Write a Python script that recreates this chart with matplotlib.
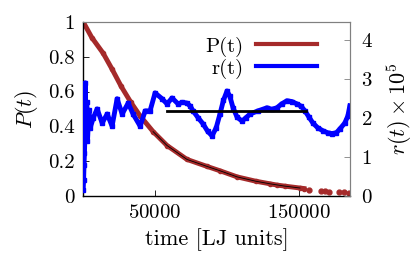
import matplotlib
matplotlib.use("Agg")
import matplotlib.pyplot as plt
from matplotlib.lines import Line2D

plt.rcParams['font.family'] = 'serif'
plt.rcParams['font.serif'] = ['cmr10']
plt.rcParams['mathtext.fontset'] = 'cm'
plt.rcParams['axes.formatter.use_mathtext'] = True
plt.rcParams['font.size'] = 15

# P(t) survival probability (left axis)
t_P = [0, 6000, 13900, 20000, 26400, 33000, 39600, 48600, 58300, 72200,
       86100, 95100, 107000, 120000, 130000, 134700, 140000, 150700, 153500]
P = [1.0, 0.91, 0.82, 0.73, 0.63, 0.54, 0.46, 0.37, 0.29, 0.21,
     0.17, 0.145, 0.11, 0.085, 0.07, 0.063, 0.057, 0.046, 0.043]
# sparse tail of P(t)
t_P_tail = [157000, 165000, 168000, 171000, 178000, 181000, 185000]
P_tail = [0.035, 0.027, 0.026, 0.025, 0.022, 0.021, 0.02]
# fit through P(t)
t_fit = [48600, 58300, 72200, 86100, 95100,
         107000, 120000, 130000, 140000, 150700]
P_fit = [0.37, 0.29, 0.21, 0.17, 0.145,
         0.11, 0.085, 0.07, 0.057, 0.046]

# r(t) x 1e5 (right axis)
t_r = [0, 300, 600, 900, 1200, 1500, 2000, 2500, 3000, 4000, 4900, 7000,
       9700, 13200, 16700, 20100, 23600, 27100, 31300, 34700, 39600, 43100,
       46500, 50000, 54900, 58300, 61800, 66000, 69000, 72200, 74500, 76400,
       80000, 83300, 86500, 89600, 92500, 95100, 97500, 100000, 102000,
       104200, 107000, 110400, 113000, 116000, 121500, 127800, 131000,
       134700, 138000, 141700, 145000, 148600, 151500, 154200, 157000,
       159700, 163000, 166700, 170000, 172900, 176000, 178500, 181900,
       184000, 185400]
r = [0.15, 0.4, 0.8, 1.1, 1.5, 2.9, 1.6, 2.4, 1.4, 2.2, 1.74, 2.0,
     2.23, 1.87, 2.10, 1.79, 2.49, 2.10, 2.38, 2.10, 1.79, 2.18,
     2.18, 2.64, 2.49, 2.36, 2.51, 2.36, 2.40, 2.38, 2.30, 2.18,
     2.00, 1.85, 1.66, 1.54, 1.75, 2.10, 2.45, 2.69, 2.55,
     2.26, 2.02, 1.92, 2.00, 2.10, 2.18, 2.26, 2.22,
     2.26, 2.36, 2.44, 2.42, 2.36, 2.30, 2.18, 2.02,
     1.87, 1.75, 1.67, 1.62, 1.60, 1.62, 1.72, 1.87,
     2.05, 2.31]
# mean of r(t)
t_mean = [58000, 155000]
r_mean = [2.19, 2.19]

red = '#a52a2a'
blue = '#0000ff'

fig = plt.figure(figsize=(4.2, 2.7), dpi=100)
ax = fig.add_axes([0.198, 0.274, 0.635, 0.645])
ax2 = ax.twinx()

ax.plot(t_P, P, color=red, lw=3.5, marker='o', ms=3)
ax.plot(t_P_tail, P_tail, ls='none', color=red, marker='o', ms=3.5)
ax.plot(t_fit, P_fit, color='black', lw=0.6)

ax2.plot(t_r, r, color=blue, lw=3.5, marker='s', ms=3.5)
ax2.plot(t_mean, r_mean, color='black', lw=2)

ax.set_xlim(0, 185400)
ax.set_ylim(0, 1)
ax2.set_ylim(0, 4.46)
ax.set_xticks([50000, 150000])
ax.set_yticks([0, 0.2, 0.4, 0.6, 0.8, 1])
ax.set_yticklabels(['0', '0.2', '0.4', '0.6', '0.8', '1'])
ax2.set_yticks([0, 1, 2, 3, 4])

ax.tick_params(direction='in', length=4, width=0.6, top=False, right=False, pad=6)
ax2.tick_params(direction='in', length=4, width=0.6, color='gray', pad=8)

for s in ['top', 'right']:
    ax.spines[s].set_color('gray')
    ax2.spines[s].set_color('gray')
ax2.spines['left'].set_visible(False)
ax2.spines['bottom'].set_visible(False)
for s in ['left', 'bottom']:
    ax.spines[s].set_linewidth(1.0)

ax.set_xlabel('time [LJ units]', labelpad=4, fontsize=16)
ax.set_ylabel('$P(t)$', labelpad=6, fontsize=16)
ax2.set_ylabel(r'$r(t)\times 10^5$', labelpad=8, fontsize=16)

handles = [Line2D([], [], color=red, lw=3), Line2D([], [], color=blue, lw=3)]
ax2.legend(handles, ['P(t)', 'r(t)'], loc='upper right', frameon=False,
           markerfirst=False, handlelength=2.9, handletextpad=0.6,
           labelspacing=0.1, borderaxespad=0.3, bbox_to_anchor=(0.93, 1.0))

fig.savefig('out.png', dpi=100)
